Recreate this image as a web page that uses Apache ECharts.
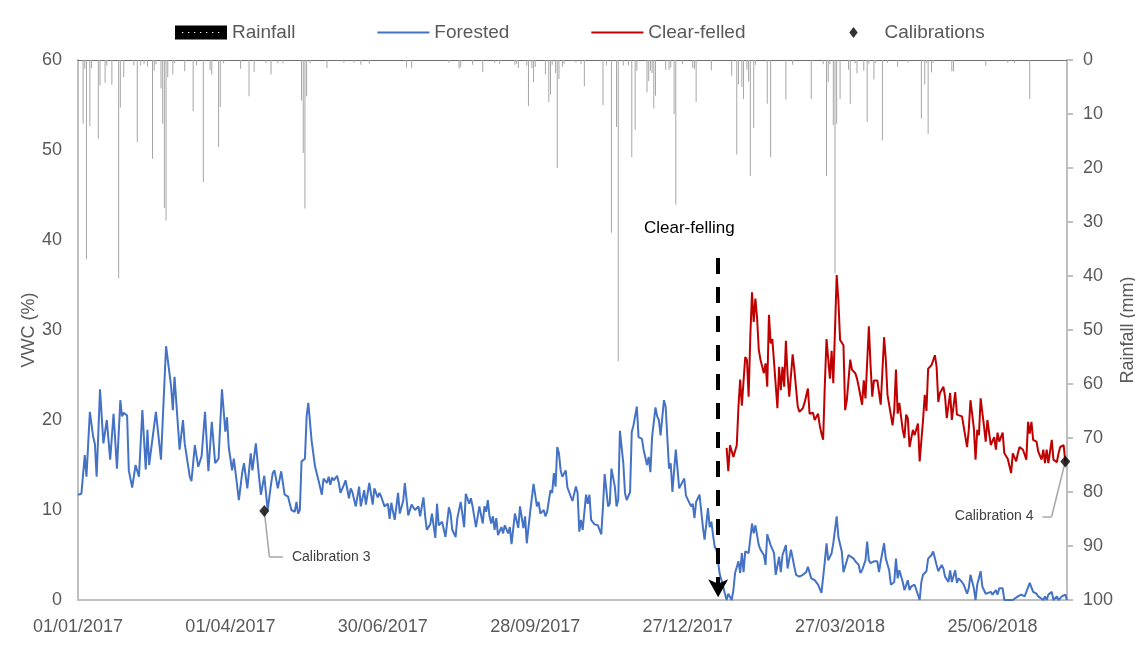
<!DOCTYPE html>
<html>
<head>
<meta charset="utf-8">
<script src="https://cdn.jsdelivr.net/npm/echarts@6/dist/echarts.min.js"></script>
<style>
  html, body { margin: 0; padding: 0; background: #fff; }
  #chart { width: 1135px; height: 648px; }
</style>
</head>
<body>
<div id="chart"></div>
<script>
  // days counted from 01/01/2017
  const startDate = Date.UTC(2017, 0, 1);
  const lastDay = 584;

  // rainfall [day, mm]
  const rainfall = [
    [3, 11.8], [4, 1.6], [5, 36.9], [7, 12.2], [8, 1.5], [12, 14.6], [13, 4.7], [16, 4.2], [17, 1.0],
    [20, 4.6], [24, 40.4], [25, 8.8], [27, 3.2], [33, 1.0], [35, 15.2], [37, 1.0], [39, 0.8], [41, 1.2],
    [44, 18.3], [45, 2.0], [46, 0.8], [49, 5.3], [50, 11.8], [51, 27.4], [52, 29.7], [53, 3.2], [56, 2.7],
    [57, 0.6], [63, 2.1], [68, 9.5], [70, 1.0], [74, 22.6], [78, 1.9], [79, 2.7], [83, 16.1], [84, 8.7],
    [86, 0.6], [96, 1.6], [101, 6.7], [104, 2.2], [111, 0.6], [114, 2.7], [118, 0.6], [121, 0.6],
    [132, 7.5], [133, 17.2], [134, 27.5], [135, 6.7], [137, 0.6], [147, 1.5], [157, 0.5], [163, 0.5],
    [167, 0.9], [172, 0.7], [194, 1.4], [197, 1.5], [219, 0.5], [225, 1.6], [226, 1.3], [233, 0.9],
    [239, 2.2], [246, 0.5], [249, 0.7], [258, 0.9], [259, 0.7], [260, 1.5], [265, 1.0], [266, 8.5],
    [268, 1.5], [269, 4.1], [270, 1.3], [276, 2.7], [278, 7.8], [279, 6.4], [280, 0.9], [282, 2.4],
    [283, 20.0], [284, 3.5], [286, 1.3], [287, 0.7], [294, 0.5], [297, 0.8], [299, 4.8], [310, 8.4],
    [312, 1.0], [315, 32.0], [318, 12.4], [319, 55.8], [322, 1.0], [325, 1.0], [327, 18.0], [329, 12.9],
    [330, 2.0], [336, 6.0], [337, 3.9], [338, 2.0], [339, 2.4], [340, 9.0], [341, 6.6], [347, 1.8],
    [349, 1.8], [350, 1.4], [352, 10.0], [353, 26.8], [357, 0.8], [363, 1.5], [364, 1.6], [365, 7.8],
    [374, 1.9], [386, 2.9], [389, 17.5], [390, 4.5], [392, 5.0], [393, 7.2], [395, 1.8], [396, 4.0],
    [397, 21.5], [399, 12.6], [400, 0.9], [407, 8.1], [409, 18.0], [418, 7.3], [422, 0.9], [433, 7.2],
    [440, 0.8], [442, 21.5], [443, 4.1], [444, 0.8], [446, 12.1], [447, 39.5], [448, 11.8], [450, 7.2],
    [455, 1.8], [456, 8.1], [459, 0.6], [460, 2.5], [464, 2.0], [466, 11.5], [467, 0.7], [470, 3.6],
    [471, 0.5], [475, 14.9], [478, 0.5], [484, 1.3], [490, 0.5], [498, 10.9], [500, 4.6], [501, 0.5],
    [502, 13.7], [504, 2.3], [505, 0.5], [516, 2.1], [517, 2.1], [536, 1.1], [549, 0.5], [553, 0.5],
    [562, 7.2]
  ];

  // forested VWC [day, %]
  const forested = [
    [0, 11.7], [2, 11.8], [4, 16.1], [5, 13.7], [7, 20.9], [9, 18.1], [10, 17.3], [11, 13.7], [13, 23.4],
    [15, 17.4], [16, 17.2], [17, 20.0], [19, 15.6], [21, 20.7], [23, 14.6], [25, 22.2], [26, 20.4],
    [27, 20.8], [29, 20.5], [30, 14.4], [32, 12.5], [34, 15.0], [36, 13.7], [38, 21.1], [40, 14.5],
    [41, 18.9], [42, 15.0], [46, 20.9], [49, 15.6], [52, 28.2], [55, 23.7], [56, 21.1], [57, 24.8],
    [60, 16.7], [62, 20.0], [63, 17.4], [64, 17.5], [66, 13.7], [67, 13.2], [69, 17.2], [71, 14.8],
    [73, 16.0], [74, 16.1], [75, 20.9], [77, 14.3], [79, 19.8], [81, 15.2], [83, 15.7], [85, 23.4],
    [87, 18.7], [88, 20.3], [89, 17.0], [91, 14.4], [92, 15.7], [93, 14.2], [95, 11.1], [97, 14.2],
    [98, 15.2], [100, 12.4], [102, 16.3], [103, 14.4], [105, 17.4], [107, 13.5], [108, 11.7], [110, 13.8],
    [112, 10.0], [114, 12.9], [115, 14.1], [116, 14.4], [118, 12.4], [120, 14.3], [122, 11.7], [124, 11.5],
    [126, 10.0], [128, 9.8], [129, 10.9], [130, 9.6], [131, 10.0], [132, 15.4], [134, 15.7], [135, 20.4],
    [136, 21.9], [138, 17.6], [140, 14.8], [141, 14.6], [142, 13.3], [144, 11.7], [145, 13.5], [147, 13.0],
    [148, 13.7], [149, 12.8], [150, 13.6], [151, 13.3], [153, 13.8], [154, 13.0], [155, 11.9], [157, 12.8],
    [158, 13.3], [160, 11.3], [161, 12.4], [162, 12.0], [164, 10.4], [166, 12.6], [167, 10.4], [169, 12.2],
    [170, 10.6], [172, 13.0], [174, 10.6], [175, 12.4], [177, 11.4], [178, 11.9], [179, 11.5], [181, 10.4],
    [183, 10.7], [184, 9.0], [185, 10.8], [187, 8.9], [189, 11.9], [190, 9.6], [192, 11.0], [193, 13.0],
    [195, 9.4], [197, 10.6], [199, 10.0], [201, 10.4], [202, 9.3], [204, 11.4], [205, 9.3], [206, 7.8],
    [208, 8.4], [209, 9.6], [211, 6.9], [212, 10.7], [213, 8.3], [215, 8.7], [217, 7.0], [219, 10.3],
    [220, 9.6], [221, 7.8], [223, 7.0], [224, 9.1], [226, 10.9], [227, 10.7], [228, 8.1], [229, 11.8],
    [231, 10.7], [232, 11.3], [233, 10.4], [235, 8.1], [237, 10.4], [239, 8.5], [240, 10.4], [241, 9.8],
    [242, 11.1], [243, 9.3], [244, 8.5], [245, 9.3], [246, 7.8], [247, 9.1], [248, 7.2], [250, 8.1],
    [251, 7.4], [252, 8.3], [254, 7.4], [255, 8.1], [256, 6.2], [258, 9.6], [260, 8.0], [261, 10.4],
    [263, 8.0], [264, 9.3], [265, 6.3], [267, 9.8], [268, 9.6], [269, 12.9], [271, 10.4], [272, 10.9],
    [273, 9.6], [275, 10.0], [276, 9.3], [277, 9.8], [279, 12.2], [280, 11.9], [281, 14.1], [282, 12.6],
    [283, 17.0], [284, 16.3], [285, 14.4], [286, 13.7], [288, 14.4], [289, 12.5], [290, 12.0], [292, 11.0],
    [294, 12.6], [295, 11.9], [296, 7.6], [297, 8.9], [298, 7.8], [300, 11.7], [301, 10.7], [302, 11.7],
    [303, 8.9], [305, 8.4], [307, 8.3], [309, 7.3], [310, 10.4], [311, 14.0], [313, 10.4], [314, 10.7],
    [315, 14.6], [317, 12.6], [318, 10.4], [319, 11.1], [320, 18.8], [322, 15.2], [323, 11.9], [324, 11.1],
    [326, 12.0], [327, 18.7], [328, 19.4], [330, 21.5], [331, 18.1], [333, 17.9], [334, 16.7], [335, 16.8],
    [336, 15.0], [337, 15.9], [338, 14.2], [339, 18.1], [341, 21.4], [342, 20.4], [343, 20.0], [344, 18.3],
    [346, 22.2], [347, 21.5], [349, 14.6], [350, 15.2], [351, 12.0], [352, 12.2], [353, 16.7], [355, 12.4],
    [356, 12.6], [358, 13.5], [359, 11.6], [360, 11.7], [362, 10.4], [363, 10.7], [364, 9.1], [365, 10.9],
    [367, 11.7], [368, 9.9], [369, 8.1], [370, 6.7], [372, 10.2], [373, 8.1], [374, 8.7], [375, 7.2],
    [376, 5.9], [377, 5.6], [379, 2.8], [380, 2.2], [382, 0.7], [383, 0.0], [384, 0.7], [386, 0.0],
    [387, 1.1], [388, 3.0], [390, 4.3], [391, 3.0], [392, 5.2], [393, 3.1], [394, 5.4], [396, 5.2],
    [398, 8.5], [399, 7.4], [400, 8.3], [402, 6.1], [403, 5.6], [405, 5.0], [406, 3.9], [407, 7.3],
    [409, 6.1], [410, 6.3], [411, 5.2], [412, 2.8], [414, 4.8], [415, 3.1], [416, 5.0], [418, 6.1],
    [419, 3.5], [421, 5.6], [423, 3.7], [424, 2.8], [426, 2.6], [428, 2.8], [430, 3.1], [431, 3.7],
    [433, 2.4], [435, 2.2], [436, 2.0], [437, 1.7], [439, 0.8], [441, 4.3], [442, 6.3], [443, 4.4],
    [445, 5.2], [446, 6.3], [448, 9.3], [449, 7.0], [451, 5.4], [452, 3.1], [453, 3.0], [455, 5.0],
    [456, 4.8], [458, 4.6], [459, 4.3], [461, 3.9], [462, 3.0], [463, 3.3], [465, 4.4], [466, 6.5],
    [467, 4.4], [468, 4.1], [470, 4.3], [472, 4.3], [473, 3.1], [474, 4.3], [476, 6.3], [477, 4.6],
    [479, 3.3], [480, 1.7], [482, 2.0], [483, 4.6], [484, 2.4], [485, 3.3], [487, 2.0], [488, 1.1],
    [490, 2.2], [491, 1.1], [492, 1.5], [494, 1.7], [495, 1.8], [497, 0.0], [498, 2.0], [499, 2.8],
    [501, 3.2], [502, 4.6], [504, 5.0], [505, 5.4], [507, 3.9], [508, 3.2], [510, 3.9], [511, 3.5],
    [512, 2.6], [514, 2.0], [515, 3.3], [516, 2.0], [518, 3.3], [519, 1.9], [520, 2.4], [522, 2.0],
    [523, 1.7], [525, 0.7], [526, 1.3], [527, 2.8], [529, 1.3], [530, 0.0], [531, 1.7], [533, 3.2],
    [534, 1.5], [536, 0.7], [537, 0.7], [539, 0.9], [540, 0.6], [542, 1.1], [543, 0.6], [544, 1.3],
    [546, 1.3], [547, 0.0], [549, 0.0], [550, 0.0], [552, 0.0], [553, 0.2], [555, 0.4], [556, 0.6],
    [557, 0.6], [559, 0.4], [560, 0.9], [562, 1.9], [563, 1.7], [564, 0.9], [566, 0.7], [567, 0.4],
    [568, 0.6], [570, 0.0], [571, 0.4], [572, 0.0], [573, 0.6], [575, 0.9], [576, 0.0], [578, 0.4],
    [579, 0.0], [581, 0.4], [583, 0.6], [584, 0.0]
  ];

  // clear-felled VWC [day, %]
  const clearFelled = [
    [383, 16.9], [384, 14.3], [385, 17.2], [386, 17.4], [387, 15.9], [389, 17.2], [390, 21.5], [391, 24.5],
    [392, 21.6], [394, 27.0], [395, 26.7], [396, 22.6], [397, 29.3], [398, 34.2], [399, 30.9], [400, 33.5],
    [401, 31.3], [402, 27.8], [403, 26.7], [405, 25.2], [406, 26.3], [407, 23.7], [408, 31.7], [409, 28.5],
    [410, 29.0], [411, 28.9], [413, 21.3], [414, 25.9], [415, 23.3], [416, 25.9], [417, 23.7], [418, 28.8],
    [419, 25.0], [420, 22.6], [422, 27.3], [423, 25.6], [425, 21.5], [426, 20.9], [428, 21.3], [429, 21.9],
    [431, 23.5], [432, 20.7], [434, 20.8], [435, 20.0], [437, 20.7], [438, 19.4], [439, 18.5], [440, 17.8],
    [441, 23.9], [442, 29.0], [443, 28.9], [444, 24.6], [445, 27.7], [446, 24.1], [447, 30.0], [448, 36.1],
    [449, 33.3], [450, 28.9], [452, 28.3], [453, 21.1], [454, 22.2], [456, 26.7], [457, 25.6], [459, 25.2],
    [460, 24.6], [461, 23.7], [463, 21.7], [464, 24.4], [465, 22.4], [467, 30.4], [468, 26.1], [469, 22.6],
    [470, 24.4], [472, 24.4], [474, 21.7], [476, 29.2], [477, 26.7], [478, 22.8], [481, 19.4], [482, 21.1],
    [483, 25.6], [484, 20.7], [485, 21.9], [487, 18.9], [488, 18.0], [489, 20.6], [490, 20.2], [491, 17.0],
    [493, 18.9], [494, 18.3], [496, 19.6], [497, 15.4], [499, 20.0], [500, 22.8], [501, 21.0], [502, 25.7],
    [504, 26.1], [505, 25.9], [506, 27.2], [507, 25.9], [508, 22.0], [509, 23.0], [511, 23.7], [512, 22.6],
    [513, 20.2], [515, 23.0], [516, 20.0], [518, 23.1], [519, 20.6], [520, 20.6], [522, 20.4], [523, 20.2],
    [525, 17.0], [526, 18.9], [527, 22.2], [529, 19.1], [530, 15.6], [531, 18.9], [532, 18.3], [533, 22.4],
    [535, 19.3], [536, 17.6], [537, 20.0], [539, 17.2], [540, 17.0], [541, 18.1], [542, 16.7], [543, 18.6],
    [544, 17.6], [546, 18.6], [547, 16.3], [549, 15.7], [550, 15.6], [551, 14.1], [552, 16.3], [554, 15.4],
    [555, 16.3], [556, 17.0], [558, 16.7], [559, 16.5], [560, 15.6], [561, 19.8], [562, 18.5], [563, 19.8],
    [564, 17.8], [566, 17.6], [567, 16.5], [569, 15.6], [570, 16.7], [571, 15.2], [572, 16.7], [573, 15.2],
    [575, 17.8], [576, 15.6], [578, 15.3], [579, 16.3], [580, 17.0], [582, 17.2], [583, 15.4]
  ];

  // calibration points [day, %]
  const calibrations = [[110, 9.9], [583, 15.4]];
  const calibrationNames = ['Calibration 3', 'Calibration 4'];

  // clear-felling date
  const fellingDay = 378;

  const axisGrey = '#bfbfbf';
  const textGrey = '#595959';
  const font = 'Liberation Sans, Arial, sans-serif';

  // legend icons: thin line, black box with white dots, small diamond in the middle of the box
  const lineIcon = 'path://M0,0H52V2.2H0Z';
  let rainIcon = 'path://M0,0H52V14H0Z';
  for (let x = 7; x < 48; x += 6) {
    rainIcon += 'M' + x + ',6.4V7.6H' + (x + 1.3) + 'V6.4Z';
  }
  const diamondIcon = 'path://M0,0L0.01,0L0,0.01ZM52,14L51.99,14L52,13.99ZM26,1.5L30.2,7L26,12.5L21.8,7Z';

  function dayLabel(v) {
    if (v % 90 !== 0) return '';
    let d = new Date(startDate + v * 86400000);
    let dd = String(d.getUTCDate()).padStart(2, '0');
    let mm = String(d.getUTCMonth() + 1).padStart(2, '0');
    return dd + '/' + mm + '/' + d.getUTCFullYear();
  }

  let myChart = echarts.init(document.getElementById('chart'));

  let options = {
    backgroundColor: '#fff',
    animation: false,
    textStyle: { fontFamily: font },
    legend: {
      left: 170,
      top: 18,
      itemWidth: 52,
      itemHeight: 14,
      itemGap: 82,
      textStyle: { fontSize: 19, color: textGrey, fontFamily: font },
      data: [
        { name: 'Rainfall', icon: rainIcon, itemStyle: { color: '#000' } },
        { name: 'Forested', icon: lineIcon, itemStyle: { color: '#4472c4' } },
        { name: 'Clear-felled', icon: lineIcon, itemStyle: { color: '#c00000' } },
        { name: 'Calibrations', icon: diamondIcon, itemStyle: { color: '#000' } }
      ]
    },
    grid: { left: 78, right: 68, top: 60, bottom: 48, outerBoundsMode: 'none', containLabel: false },
    xAxis: [{
      type: 'value',
      min: 0,
      max: lastDay,
      interval: 90,
      axisLine: { onZero: false, lineStyle: { color: axisGrey, width: 2 } },
      axisTick: { show: false },
      splitLine: { show: false },
      axisLabel: {
        color: textGrey,
        fontSize: 18,
        margin: 18,
        showMaxLabel: false,
        formatter: dayLabel
      }
    }, {
      // rainfall baseline along the top
      type: 'value',
      min: 0,
      max: lastDay,
      position: 'top',
      axisLine: { onZero: false, lineStyle: { color: '#6f6f6f', width: 1 } },
      axisTick: { show: false },
      axisLabel: { show: false },
      splitLine: { show: false }
    }],
    yAxis: [{
      type: 'value',
      min: 0,
      max: 60,
      interval: 10,
      name: 'VWC (%)',
      nameLocation: 'middle',
      nameGap: 40,
      nameMoveOverlap: false,
      nameTextStyle: { fontSize: 18, color: textGrey },
      axisLine: { show: true, onZero: false, lineStyle: { color: axisGrey, width: 2 } },
      axisTick: { show: false },
      splitLine: { show: false },
      axisLabel: { color: textGrey, fontSize: 18, margin: 16 }
    }, {
      type: 'value',
      min: 0,
      max: 100,
      interval: 10,
      inverse: true,
      position: 'right',
      name: 'Rainfall (mm)',
      nameLocation: 'middle',
      nameRotate: 90,
      nameGap: 52,
      nameMoveOverlap: false,
      nameTextStyle: { fontSize: 18, color: textGrey },
      axisLine: { show: true, onZero: false, lineStyle: { color: axisGrey, width: 2 } },
      axisTick: { show: true, length: 6, lineStyle: { color: axisGrey, width: 2 } },
      splitLine: { show: false },
      axisLabel: { color: textGrey, fontSize: 18, margin: 16 }
    }],
    series: [{
      name: 'Rainfall',
      type: 'bar',
      xAxisIndex: 1,
      yAxisIndex: 1,
      barWidth: 1,
      itemStyle: { color: '#a6a6a6' },
      data: rainfall
    }, {
      name: 'Forested',
      type: 'line',
      symbol: 'none',
      lineStyle: { color: '#4472c4', width: 2 },
      itemStyle: { color: '#4472c4' },
      data: forested
    }, {
      name: 'Clear-felled',
      type: 'line',
      symbol: 'none',
      lineStyle: { color: '#c00000', width: 2 },
      itemStyle: { color: '#c00000' },
      data: clearFelled,
      markLine: {
        silent: true,
        symbol: ['none', 'arrow'],
        symbolSize: [15, 18],
        label: { show: false },
        lineStyle: { color: '#000', width: 4, type: [16, 13] },
        data: [[{ coord: [fellingDay, 38] }, { coord: [fellingDay, 0.3] }]]
      },
      markPoint: {
        silent: true,
        symbol: 'rect',
        symbolSize: 0,
        label: {
          show: true,
          position: 'inside',
          color: '#000',
          fontSize: 17,
          formatter: '{b}'
        },
        data: [{ name: 'Clear-felling', coord: [361, 41.3] }]
      }
    }, {
      name: 'Calibrations',
      type: 'scatter',
      symbol: 'diamond',
      symbolSize: [10, 12],
      itemStyle: { color: '#000' },
      z: 5,
      data: calibrations,
      markLine: {
        silent: true,
        symbol: 'none',
        label: { show: false },
        lineStyle: { color: '#a6a6a6', width: 1.5, type: 'solid' },
        data: [
          [{ coord: calibrations[0] }, { coord: [113, 4.8] }],
          [{ coord: [113, 4.8] }, { coord: [121, 4.8] }],
          [{ coord: calibrations[1] }, { coord: [575, 9.3] }],
          [{ coord: [575, 9.3] }, { coord: [569.5, 9.3] }]
        ]
      },
      markPoint: {
        silent: true,
        symbol: 'rect',
        symbolSize: 0,
        label: { show: true, color: '#404040', fontSize: 14, distance: 9, formatter: '{b}' },
        data: [
          { name: calibrationNames[0], coord: [121, 4.8], label: { position: 'right' } },
          { name: calibrationNames[1], coord: [569.5, 9.3], label: { position: 'left' } }
        ]
      }
    }]
  };

  myChart.setOption(options);
</script>
</body>
</html>
